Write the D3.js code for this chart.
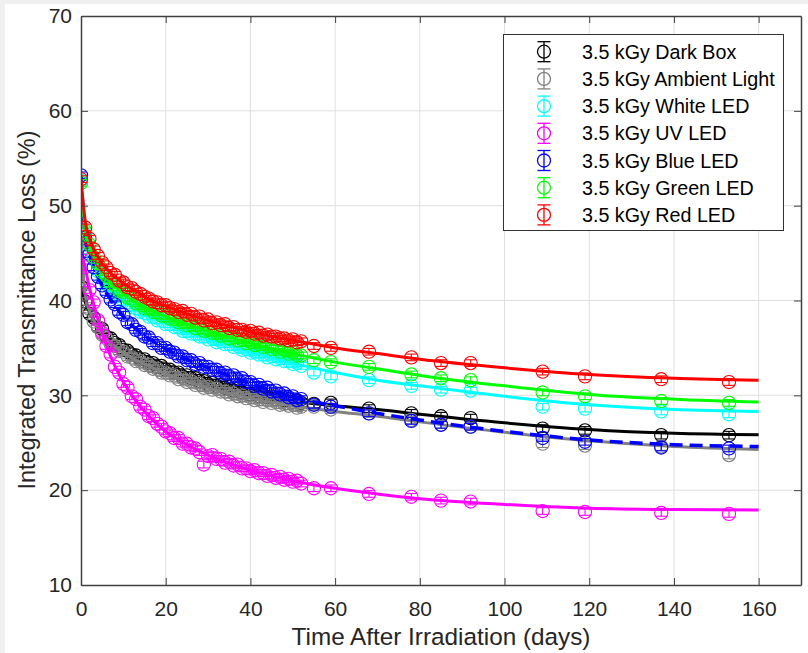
<!DOCTYPE html>
<html><head><meta charset="utf-8">
<script src="https://cdn.jsdelivr.net/npm/d3@7"></script>
<style>
html,body{margin:0;padding:0;background:#fff;}
svg{display:block;font-family:"Liberation Sans",Arial,Helvetica,sans-serif;}
</style></head><body>
<svg id="chart" width="808" height="653"></svg>
<script>
// Measurement days (dense daily readings, then sparse follow-ups)
const days = [0,1,2,3,4,5,6,7,8,9,10,11,12,13,14,15,16,17,18,19,20,21,22,23,24,25,26,27,28,29,
  30,31,32,33,34,35,36,37,38,39,40,41,42,43,44,45,46,47,48,49,50,51,52,
  55,59,68,78,85,92,109,119,137,153];

const seriesNames = ["3.5 kGy Dark Box","3.5 kGy Ambient Light","3.5 kGy White LED","3.5 kGy UV LED",
  "3.5 kGy Blue LED","3.5 kGy Green LED","3.5 kGy Red LED"];
const seriesColors = ["#000000","#808080","#00ffff","#ff00ff","#0000ff","#00ff00","#ff0000"];
const seriesErr = [0.4,0.4,0.35,0.35,0.35,0.35,0.35];

// Measured integrated transmittance loss (%)
const darkBox = [41.5,39.9,38.6,38.2,37.2,37.0,36.2,36.0,35.5,35.3,
  34.8,34.7,34.3,34.2,33.8,33.8,33.4,33.4,33.0,33.1,
  32.7,32.7,32.4,32.4,32.0,32.1,31.8,31.8,31.5,31.5,
  31.2,31.3,31.0,31.1,30.8,30.9,30.5,30.7,30.3,30.4,
  30.1,30.2,29.9,30.0,29.8,29.9,29.6,29.7,29.5,29.6,
  29.3,29.4,29.2,
  29.1,29.2,28.6,28.1,27.8,27.6,26.5,26.3,25.8,25.8];
const ambient = [46.3,40.7,39.1,37.8,37.2,36.4,36.0,35.4,35.2,34.7,
  34.6,34.1,34.0,33.6,33.6,33.2,33.2,32.8,32.8,32.4,
  32.4,32.1,32.1,31.7,31.8,31.4,31.5,31.1,31.2,30.8,
  30.9,30.6,30.7,30.4,30.4,30.1,30.2,29.9,30.0,29.7,
  29.8,29.5,29.6,29.3,29.5,29.2,29.3,29.0,29.1,28.9,
  29.0,28.7,28.8,
  28.8,28.5,28.1,27.4,26.9,26.7,24.9,24.7,24.6,23.7];
const whiteLed = [52.6,47.0,45.3,44.3,43.1,42.6,41.7,41.3,40.7,40.5,
  39.9,39.8,39.3,39.2,38.8,38.7,38.3,38.3,37.9,37.9,
  37.5,37.5,37.2,37.2,36.8,36.8,36.5,36.5,36.2,36.2,
  35.9,36.0,35.6,35.7,35.4,35.4,35.1,35.2,34.8,34.9,
  34.5,34.6,34.3,34.3,34.0,34.1,33.8,33.9,33.6,33.6,
  33.3,33.4,33.1,
  32.4,32.0,31.6,31.0,30.6,30.5,28.8,28.6,28.3,28.0];
const uvLed = [45.2,43.5,41.1,39.8,37.9,36.6,35.2,34.3,33.0,32.4,
  31.2,30.8,29.9,29.6,28.8,28.5,27.8,27.6,27.0,26.7,
  26.2,26.0,25.5,25.5,24.9,24.9,24.5,24.4,24.0,22.7,
  23.6,23.7,23.3,23.3,22.9,23.0,22.6,22.7,22.3,22.3,
  22.0,22.1,21.8,21.8,21.5,21.6,21.3,21.4,21.1,21.2,
  20.9,21.0,20.7,
  20.2,20.2,19.6,19.3,18.9,18.8,17.8,17.7,17.6,17.5];
const blueLed = [53.2,46.6,44.9,43.5,42.5,41.6,40.9,40.1,39.6,38.8,
  38.5,37.7,37.5,36.9,36.7,36.2,36.1,35.5,35.5,35.0,
  35.0,34.6,34.5,34.1,34.1,33.7,33.7,33.3,33.4,33.0,
  33.0,32.7,32.7,32.3,32.4,32.0,32.1,31.7,31.8,31.4,
  31.4,31.0,31.1,30.7,30.8,30.4,30.5,30.1,30.2,29.8,
  29.9,29.5,29.6,
  29.0,28.8,28.1,27.3,26.9,26.7,25.5,25.1,24.5,24.4];
const greenLed = [52.4,47.3,45.9,44.6,43.9,43.0,42.6,41.8,41.7,41.0,
  40.9,40.3,40.2,39.7,39.7,39.2,39.2,38.8,38.8,38.4,
  38.4,38.1,38.1,37.7,37.8,37.4,37.5,37.1,37.2,36.8,
  36.9,36.6,36.6,36.3,36.4,36.0,36.1,35.8,35.9,35.5,
  35.6,35.3,35.4,35.1,35.2,34.9,35.0,34.6,34.8,34.4,
  34.5,34.2,34.2,
  33.7,33.5,33.0,32.2,31.8,31.6,30.3,29.9,29.4,29.2];
const redLed = [52.8,47.7,46.5,45.4,44.7,44.0,43.5,42.9,42.7,42.1,
  41.9,41.4,41.3,40.9,40.7,40.4,40.2,39.9,39.8,39.5,
  39.5,39.2,39.1,38.8,38.9,38.5,38.6,38.2,38.3,37.9,
  38.0,37.6,37.7,37.4,37.5,37.1,37.2,36.9,36.9,36.7,
  36.8,36.5,36.6,36.3,36.4,36.2,36.2,36.0,36.0,35.8,
  35.9,35.6,35.7,
  35.2,35.0,34.6,34.0,33.4,33.4,32.5,32.0,31.7,31.4];

// Fitted decay curves, sampled at these days
const fitDays = [0,1,2,3,4,5,6,7,9,10,13,15,20,25,30,40,50,60,70,80,100,120,140,160];
const fitDark  = [41.5,39.8,38.8,38.0,37.4,36.8,36.3,35.9,35.2,34.9,34.1,33.7,32.8,32.0,31.3,30.2,29.4,28.9,28.5,28.0,27.1,26.4,26.0,25.85];
const fitAmb   = [46.3,40.6,38.9,37.9,37.1,36.5,35.9,35.5,34.8,34.5,33.7,33.3,32.3,31.5,30.8,29.7,28.9,28.3,27.8,27.2,26.1,25.2,24.6,24.3];
const fitWhite = [52.5,47.0,45.3,44.1,43.2,42.4,41.8,41.2,40.4,40.0,39.1,38.6,37.6,36.7,36.0,34.6,33.4,32.4,31.6,31.0,29.9,29.0,28.5,28.3];
const fitUv    = [45.2,43.4,41.3,39.6,38.0,36.6,35.3,34.1,32.2,31.4,29.4,28.3,26.2,24.8,23.7,22.1,21.0,20.2,19.6,19.1,18.5,18.1,17.95,17.9];
const fitBlue  = [53.1,46.8,44.8,43.5,42.5,41.6,40.8,40.1,38.9,38.3,37.0,36.3,34.9,33.8,32.9,31.3,29.8,28.9,28.1,27.4,26.2,25.3,24.8,24.6];
const fitGreen = [52.5,47.5,45.8,44.6,43.7,43.0,42.4,41.9,41.1,40.7,39.8,39.3,38.3,37.5,36.8,35.5,34.4,33.5,32.8,32.1,31.0,30.1,29.6,29.3];
const fitRed   = [52.8,48.4,46.6,45.4,44.6,43.9,43.4,42.9,42.2,41.8,41.0,40.4,39.4,38.6,37.9,36.7,35.8,35.0,34.4,33.8,32.9,32.2,31.8,31.6];

const measured = [darkBox, ambient, whiteLed, uvLed, blueLed, greenLed, redLed];
const fits = [fitDark, fitAmb, fitWhite, fitUv, fitBlue, fitGreen, fitRed];
const fitDash = [null, null, null, null, "13,7", null, null];

const xTicks = [0,20,40,60,80,100,120,140,160];
const yTicks = [10,20,30,40,50,60,70];

(function draw() {
  const svg = d3.select("#chart");
  const W = 808, H = 653;
  const pL = 81, pR = 801, pT = 16, pB = 585;
  const textCol = "#262626";

  // figure background with the thin grey frame edge
  svg.append("rect").attr("width", W).attr("height", H).attr("fill", "#ffffff");
  svg.append("rect").attr("width", W).attr("height", 4).attr("fill", "#f0f0f0");
  svg.append("rect").attr("width", 5).attr("height", H).attr("fill", "#f0f0f0");

  const x = d3.scaleLinear().domain([0, 170]).range([pL, pR]);
  const y = d3.scaleLinear().domain([10, 70]).range([pB, pT]);

  // grid
  const grid = svg.append("g").attr("stroke", "#dfdfdf").attr("stroke-width", 1);
  grid.selectAll(".gx").data(xTicks.filter(d => d > 0)).enter().append("line")
    .attr("x1", d => x(d)).attr("x2", d => x(d)).attr("y1", pT).attr("y2", pB);
  grid.selectAll(".gy").data(yTicks.filter(d => d > 10 && d < 70)).enter().append("line")
    .attr("x1", pL).attr("x2", pR).attr("y1", d => y(d)).attr("y2", d => y(d));

  // plot contents, clipped to axes
  svg.append("clipPath").attr("id", "plotclip").append("rect")
    .attr("x", pL).attr("y", pT).attr("width", pR - pL).attr("height", pB - pT);
  const plot = svg.append("g").attr("clip-path", "url(#plotclip)");

  const R = 6.6, CAP = 5.5;
  const line = d3.line().x(d => x(d[0])).y(d => y(d[1])).curve(d3.curveMonotoneX);

  measured.forEach((vals, si) => {
    const col = seriesColors[si];
    const err = seriesErr[si];
    const pts = vals.map((v, i) => [days[i], v]).filter(p => p[0] !== undefined);
    const g = plot.append("g").attr("stroke", col).attr("fill", "none").attr("stroke-width", 1.1);
    const mk = g.selectAll("g").data(pts).enter().append("g");
    mk.append("line").attr("x1", d => x(d[0])).attr("x2", d => x(d[0]))
      .attr("y1", d => y(d[1] - err)).attr("y2", d => y(d[1] + err));
    mk.append("line").attr("x1", d => x(d[0]) - CAP).attr("x2", d => x(d[0]) + CAP)
      .attr("y1", d => y(d[1] + err)).attr("y2", d => y(d[1] + err));
    mk.append("line").attr("x1", d => x(d[0]) - CAP).attr("x2", d => x(d[0]) + CAP)
      .attr("y1", d => y(d[1] - err)).attr("y2", d => y(d[1] - err));
    mk.append("circle").attr("cx", d => x(d[0])).attr("cy", d => y(d[1])).attr("r", R);

    const fpts = fits[si].map((v, i) => [fitDays[i], v]);
    plot.append("path").datum(fpts).attr("d", line)
      .attr("fill", "none").attr("stroke", col)
      .attr("stroke-width", fitDash[si] ? 3.5 : 3)
      .attr("stroke-dasharray", fitDash[si]);
  });

  // axes (ticks inside on all four sides)
  const axisCol = "#404040";
  const gx = svg.append("g").attr("transform", `translate(0,${pB})`)
    .call(d3.axisBottom(x).tickValues(xTicks).tickSizeInner(-7).tickSizeOuter(0).tickPadding(16));
  const gy = svg.append("g").attr("transform", `translate(${pL},0)`)
    .call(d3.axisLeft(y).tickValues(yTicks).tickSizeInner(-7).tickSizeOuter(0).tickPadding(9));
  const gt = svg.append("g").attr("transform", `translate(0,${pT})`)
    .call(d3.axisTop(x).tickValues(xTicks).tickSizeInner(-7).tickSizeOuter(0).tickFormat(""));
  const gr = svg.append("g").attr("transform", `translate(${pR},0)`)
    .call(d3.axisRight(y).tickValues(yTicks).tickSizeInner(-7).tickSizeOuter(0).tickFormat(""));
  [gx, gy, gt, gr].forEach(a => {
    a.select(".domain").attr("stroke", axisCol).attr("stroke-width", 1.5);
    a.selectAll(".tick line").attr("stroke", axisCol).attr("stroke-width", 1);
    a.selectAll("text").attr("fill", textCol).attr("font-size", 21)
      .attr("font-family", '"Liberation Sans",Arial,sans-serif');
  });

  // axis titles
  svg.append("text").attr("x", (pL + pR) / 2).attr("y", 645)
    .attr("text-anchor", "middle").attr("font-size", 24.3).attr("fill", textCol)
    .text("Time After Irradiation (days)");
  svg.append("text").attr("transform", "translate(35,310) rotate(-90)")
    .attr("text-anchor", "middle").attr("font-size", 23.5).attr("fill", textCol)
    .text("Integrated Transmittance Loss (%)");

  // legend
  const lg = svg.append("g");
  lg.append("rect").attr("x", 503.5).attr("y", 34.5).attr("width", 280).attr("height", 196)
    .attr("fill", "#ffffff").attr("stroke", "#333333").attr("stroke-width", 1);
  seriesNames.forEach((name, i) => {
    const cy = 51.7 + i * 27.2, cx = 544;
    const e = lg.append("g").attr("stroke", seriesColors[i]).attr("fill", "none").attr("stroke-width", 1.3);
    e.append("line").attr("x1", cx).attr("x2", cx).attr("y1", cy - 10).attr("y2", cy + 10);
    e.append("line").attr("x1", cx - 6.5).attr("x2", cx + 6.5).attr("y1", cy - 10).attr("y2", cy - 10);
    e.append("line").attr("x1", cx - 6.5).attr("x2", cx + 6.5).attr("y1", cy + 10).attr("y2", cy + 10);
    e.append("circle").attr("cx", cx).attr("cy", cy).attr("r", 6.5);
    lg.append("text").attr("x", 582).attr("y", cy).attr("dy", "0.36em")
      .attr("font-size", 19.7).attr("fill", "#000").text(name);
  });
})();
</script>
</body></html>
